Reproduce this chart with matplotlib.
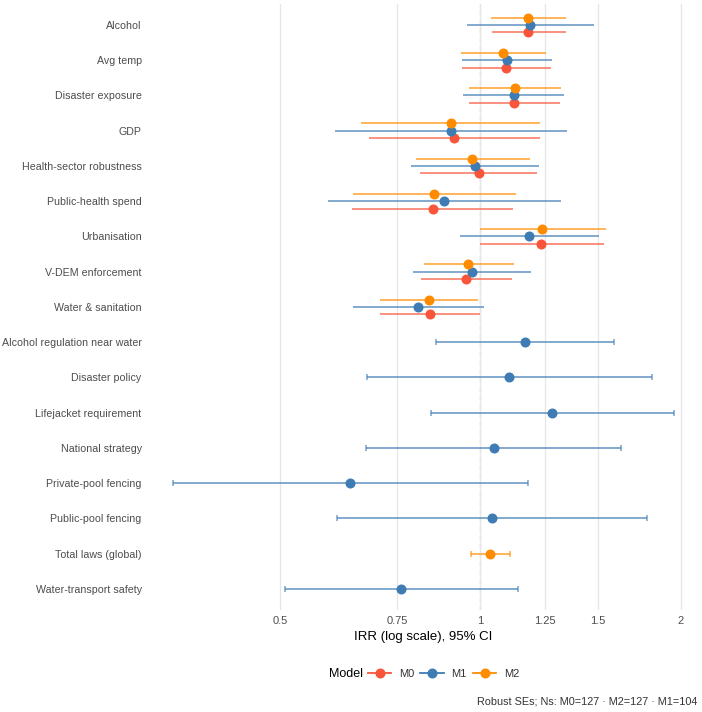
import matplotlib
matplotlib.use("Agg")
import matplotlib.pyplot as plt
from matplotlib.lines import Line2D

plt.rcParams['font.family'] = ['Liberation Sans', 'DejaVu Sans']

terms = ["Alcohol", "Avg temp", "Disaster exposure", "GDP", "Health-sector robustness",
         "Public-health spend", "Urbanisation", "V-DEM enforcement", "Water & sanitation",
         "Alcohol regulation near water", "Disaster policy", "Lifejacket requirement",
         "National strategy", "Private-pool fencing", "Public-pool fencing",
         "Total laws (global)", "Water-transport safety"]

shared = terms[:9]

m0_terms = shared
m0_est = [1.180, 1.094, 1.123, 0.913, 0.994, 0.848, 1.234, 0.952, 0.839]
m0_lo = [1.040, 0.940, 0.961, 0.680, 0.813, 0.641, 0.998, 0.814, 0.708]
m0_hi = [1.345, 1.276, 1.316, 1.229, 1.217, 1.121, 1.533, 1.114, 1.000]

m1_terms = shared + ["Alcohol regulation near water", "Disaster policy", "Lifejacket requirement",
                     "National strategy", "Private-pool fencing", "Public-pool fencing",
                     "Water-transport safety"]
m1_est = [1.188, 1.097, 1.122, 0.903, 0.981, 0.883, 1.181, 0.971, 0.807,
          1.165, 1.105, 1.281, 1.047, 0.638, 1.040, 0.760]
m1_lo = [0.955, 0.939, 0.943, 0.605, 0.786, 0.591, 0.933, 0.793, 0.643,
         0.857, 0.677, 0.844, 0.673, 0.346, 0.610, 0.509]
m1_hi = [1.482, 1.279, 1.337, 1.350, 1.223, 1.320, 1.504, 1.193, 1.011,
         1.586, 1.811, 1.950, 1.627, 1.179, 1.776, 1.137]

m2_terms = shared + ["Total laws (global)"]
m2_est = [1.177, 1.081, 1.126, 0.902, 0.972, 0.853, 1.238, 0.958, 0.836, 1.032]
m2_lo = [1.036, 0.935, 0.961, 0.663, 0.800, 0.644, 0.998, 0.822, 0.706, 0.967]
m2_hi = [1.345, 1.253, 1.320, 1.229, 1.188, 1.130, 1.541, 1.122, 0.992, 1.106]

x_ticks = [0.5, 0.75, 1, 1.25, 1.5, 2]
x_tick_labels = ["0.5", "0.75", "1", "1.25", "1.5", "2"]

models = [
    ("M0", m0_terms, m0_est, m0_lo, m0_hi, "#F8553A", 0.21),
    ("M1", m1_terms, m1_est, m1_lo, m1_hi, "#3F7CB4", 0.0),
    ("M2", m2_terms, m2_est, m2_lo, m2_hi, "#FF8C00", -0.21),
]

fig = plt.figure(figsize=(7.02, 7.12), dpi=100)
ax = fig.add_axes([0.2117, 0.1433, 0.7836, 0.8513])

for name, tl, est, lo, hi, col, off in models:
    for t, e, l, h in zip(tl, est, lo, hi):
        y = terms.index(t)
        single = t not in shared
        yy = y if single else y + off
        ax.errorbar(e, yy, xerr=[[e - l], [h - e]], fmt="none", ecolor=col, alpha=0.7,
                    elinewidth=1.3, capsize=2.2 if single else 0, capthick=1.1, zorder=2)
        ax.plot(e, yy, "o", color=col, markersize=6.2, zorder=3)

ax.set_xscale("log")
ax.set_xlim(0.3178, 2.126)
ax.set_ylim(16.6, -0.6)
ax.set_yticks(range(len(terms)))
ax.set_yticklabels(terms)
ax.set_xticks(x_ticks)
ax.set_xticklabels(x_tick_labels)
ax.xaxis.set_minor_locator(matplotlib.ticker.NullLocator())
ax.tick_params(length=0, labelsize=8, colors="#4D4D4D", pad=4)
ax.tick_params(axis="y", labelsize=7.7, pad=5)
for s in ax.spines.values():
    s.set_visible(False)
ax.grid(axis="x", color="#E6E6E6", linewidth=0.9, zorder=0)
ax.axvline(1, color="#B3B3B3", linestyle=(0, (4, 3)), linewidth=0.9, zorder=1)
ax.set_xlabel("IRR (log scale), 95% CI", fontsize=9.5, color="black", labelpad=4)

leg_y = 1 - 674 / 712
fig.text(363 / 702, leg_y, "Model", fontsize=9, ha="right", va="center")
handles = [Line2D([], [], color=c, marker="o", markersize=6.2, linewidth=1.3)
           for _, _, _, _, _, c, _ in models]
fig.legend(handles, [m[0] for m in models], loc="center left", ncol=3,
           bbox_to_anchor=(368 / 702, leg_y), frameon=False, fontsize=8,
           borderpad=0, borderaxespad=0, handlelength=2.1, handletextpad=0.7,
           columnspacing=0.55, labelcolor="#333333")

fig.text(0.993, 1 - 702 / 712, "Robust SEs; Ns: M0=127 \u00b7 M2=127 \u00b7 M1=104",
         fontsize=7.8, ha="right", va="center", color="#333333")

fig.savefig("out.png", dpi=100)
